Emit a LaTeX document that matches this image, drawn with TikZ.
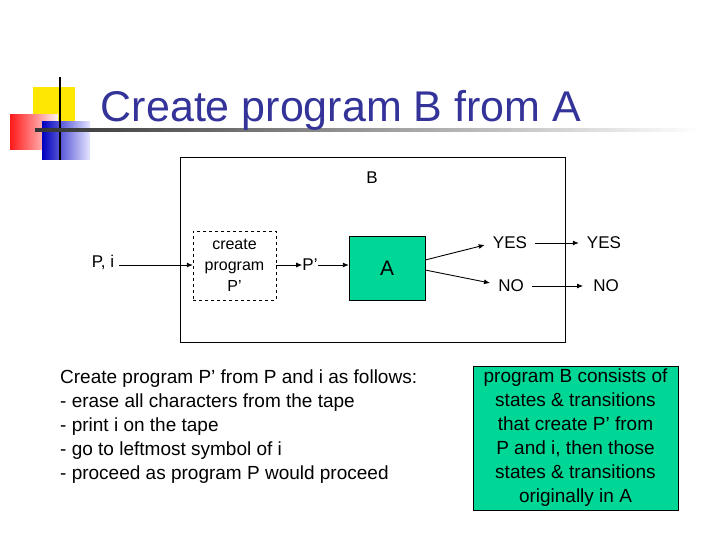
\documentclass[tikz,border=0pt]{standalone}
\usepackage{fontspec}
\setmainfont{Liberation Sans}
\usetikzlibrary{arrows.meta}
\definecolor{titleblue}{RGB}{51,51,153}
\definecolor{agreen}{RGB}{0,214,150}
\begin{document}
\begin{tikzpicture}[x=1pt,y=-1pt,
  lbl/.style={inner sep=0pt,font=\fontsize{17}{18}\selectfont},
  arr/.style={-{Latex[length=6pt,width=5pt]},line width=0.9pt},
  body/.style={font=\fontsize{19}{24}\selectfont,inner sep=0pt}]
\useasboundingbox (0,0) rectangle (720,540);
% logo
\fill[yellow!90!orange] (33,87) rectangle (75,125);
\shade[left color=red!90, right color=red!5] (10,115) rectangle (58,150);
\shade[left color=blue!75!black, right color=blue!10] (42,122) rectangle (90,160);
\draw[line width=1.2pt] (60,77) -- (60,160);
\shade[left color=black!80, right color=white] (35,129) rectangle (700,131.5);
\node[text=titleblue,font=\fontsize{43}{46}\selectfont,inner sep=0pt] (title) at (341,110) {Create program B from A};
% diagram
\draw[line width=0.8pt] (180,157) rectangle (565,342);
\node[lbl] (B) at (372,178) {B};
\node[lbl] (pi) at (103,262) {P, i};
\node[draw,dashed,minimum width=83pt,minimum height=69pt,align=center,inner sep=0pt,font=\fontsize{16}{21}\selectfont] (cp) at (234.5,265.5) {create\\program\\P’};
\node[lbl] (pp) at (310,265) {P’};
\node[draw,fill=agreen,minimum width=76pt,minimum height=64pt,font=\fontsize{21}{22}\selectfont] (A) at (387,268) {A};
\node[lbl] (y1) at (510,243) {YES};
\node[lbl] (n1) at (511,286) {NO};
\node[lbl] (y2) at (604,243) {YES};
\node[lbl] (n2) at (606,286) {NO};
\draw[arr] (pi.east)++(5,3) coordinate (s1) -- (cp.west|-s1);
\draw[arr] (cp.east|-pp) -- (pp.west);
\draw[arr] (pp.east) -- (A.west|-pp);
\draw[arr] ([yshift=8pt]A.east) -- ([xshift=-8pt,yshift=-2pt]y1.west);
\draw[arr] ([yshift=-2pt]A.east) -- ([xshift=-8pt,yshift=3pt]n1.west);
\draw[arr] ([xshift=8pt]y1.east) -- ([xshift=-8pt]y2.west);
\draw[arr] ([xshift=8pt]n1.east) -- ([xshift=-10pt]n2.west);
% texts
\node[body,anchor=north west,align=left] (txt) at (60,370) {Create program P’ from P and i as follows:\\- erase all characters from the tape\\- print i on the tape\\- go to leftmost symbol of i\\- proceed as program P would proceed};
\node[draw,fill=agreen,body,align=center,minimum width=205pt,minimum height=144pt] (note) at (575.5,438) {program B consists of\\states \& transitions\\that create P’ from\\P and i, then those\\states \& transitions\\originally in A};
\end{tikzpicture}
\end{document}
